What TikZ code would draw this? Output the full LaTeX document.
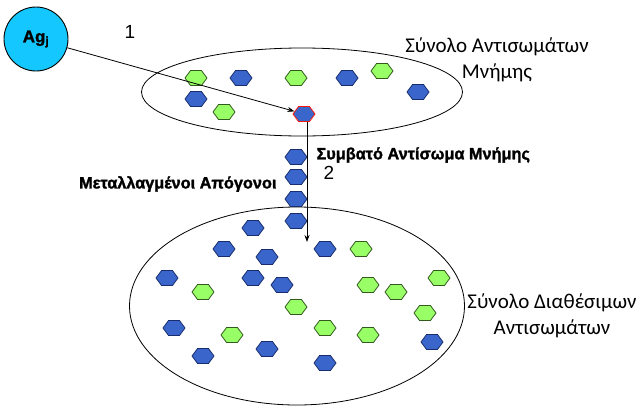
\documentclass[tikz,border=0pt]{standalone}
\usepackage{fontspec}
\setmainfont{Liberation Sans}
\newfontfamily\calfont{Carlito}
\newfontfamily\heavyfont{Liberation Sans Bold}[FakeBold=1.6]
\usetikzlibrary{shapes.symbols,shapes.geometric,arrows.meta}
\definecolor{hblue}{RGB}{58,102,204}
\definecolor{hblueline}{RGB}{25,45,110}
\definecolor{hgreen}{RGB}{153,255,102}
\definecolor{hgreenline}{RGB}{50,90,30}
\definecolor{agcyan}{RGB}{20,200,255}
\tikzset{
  hexa/.style={signal, signal to=east and west, signal pointer angle=107,
    minimum width=22pt, minimum height=15pt, inner sep=0pt, line width=0.8pt},
  bh/.style={hexa, fill=hblue, draw=hblueline},
  gh/.style={hexa, fill=hgreen, draw=hgreenline},
  rh/.style={hexa, fill=hblue, draw=red!80!orange},
  setlabel/.style={font=\calfont\fontsize{21}{26}\selectfont, align=center},
  boldlabel/.style={font=\heavyfont\fontsize{16.3}{19}\selectfont},
  numlabel/.style={font=\fontsize{19}{21}\selectfont},
  arr/.style={-{Stealth[length=7pt,width=5pt]}, line width=0.8pt},
}
\begin{document}
\begin{tikzpicture}[x=1pt,y=-1pt]
\useasboundingbox (0,0) rectangle (643,407);
% Ag_j
\node[circle, draw, line width=0.9pt, fill=agcyan, minimum size=64pt, inner sep=0pt,
  font=\heavyfont\fontsize{17}{19}\selectfont] (ag) at (36,39) {Ag\textsubscript{j}};
\node[numlabel] (n1) at (130,32) {1};
% memory set
\node[ellipse, draw, line width=0.8pt, minimum width=321pt, minimum height=88pt, inner sep=0pt] (mem) at (302,92) {};
\node[setlabel] (memlab) at (497,60) {Σύνολο Αντισωμάτων\\Μνήμης};
\node[gh] (m1) at (196,78) {};
\node[bh] (m2) at (241,78) {};
\node[gh] (m3) at (296,78) {};
\node[bh] (m4) at (347,78) {};
\node[gh] (m5) at (382,71) {};
\node[bh] (m6) at (418,92) {};
\node[bh] (m7) at (196,99) {};
\node[gh] (m8) at (224,112) {};
\node[rh] (mc) at (304,114) {};
% available set
\node[ellipse, draw, line width=0.8pt, minimum width=335pt, minimum height=198pt, inner sep=0pt] (av) at (297,306) {};
\node[setlabel] (avlab) at (552,316) {Σύνολο Διαθέσιμων\\Αντισωμάτων};
% mutated offspring stack
\node[bh] (s1) at (296,157) {};
\node[bh] (s2) at (296,177) {};
\node[bh] (s3) at (296,199) {};
\node[bh] (s4) at (296,221) {};
\node[boldlabel, anchor=west] (comp) at (313,155) {Συμβατό Αντίσωμα Μνήμης};
\node[numlabel] (n2) at (329,173) {2};
\node[boldlabel, anchor=east] (mut) at (280,184) {Μεταλλαγμένοι Απόγονοι};
% hexagons in available set
\node[bh] (a1) at (253,228) {};
\node[bh] (a2) at (224,249) {};
\node[bh] (a3) at (267,257) {};
\node[bh] (a4) at (325,249) {};
\node[gh] (a5) at (361,249) {};
\node[bh] (a6) at (167,278) {};
\node[bh] (a7) at (253,278) {};
\node[bh] (a8) at (282,285) {};
\node[gh] (a9) at (203,292) {};
\node[gh] (a10) at (296,307) {};
\node[gh] (a11) at (368,285) {};
\node[gh] (a12) at (396,292) {};
\node[gh] (a13) at (439,278) {};
\node[gh] (a14) at (425,313) {};
\node[bh] (a15) at (174,328) {};
\node[gh] (a16) at (232,335) {};
\node[gh] (a17) at (325,328) {};
\node[gh] (a18) at (368,335) {};
\node[bh] (a19) at (267,349) {};
\node[bh] (a20) at (203,356) {};
\node[bh] (a21) at (325,363) {};
\node[bh] (a22) at (432,342) {};
% connectors
\draw[arr] (ag) -- (mc);
\coordinate (t2) at (307,242);
\draw[arr] (mc.south -| t2) -- (t2);
\end{tikzpicture}
\end{document}
